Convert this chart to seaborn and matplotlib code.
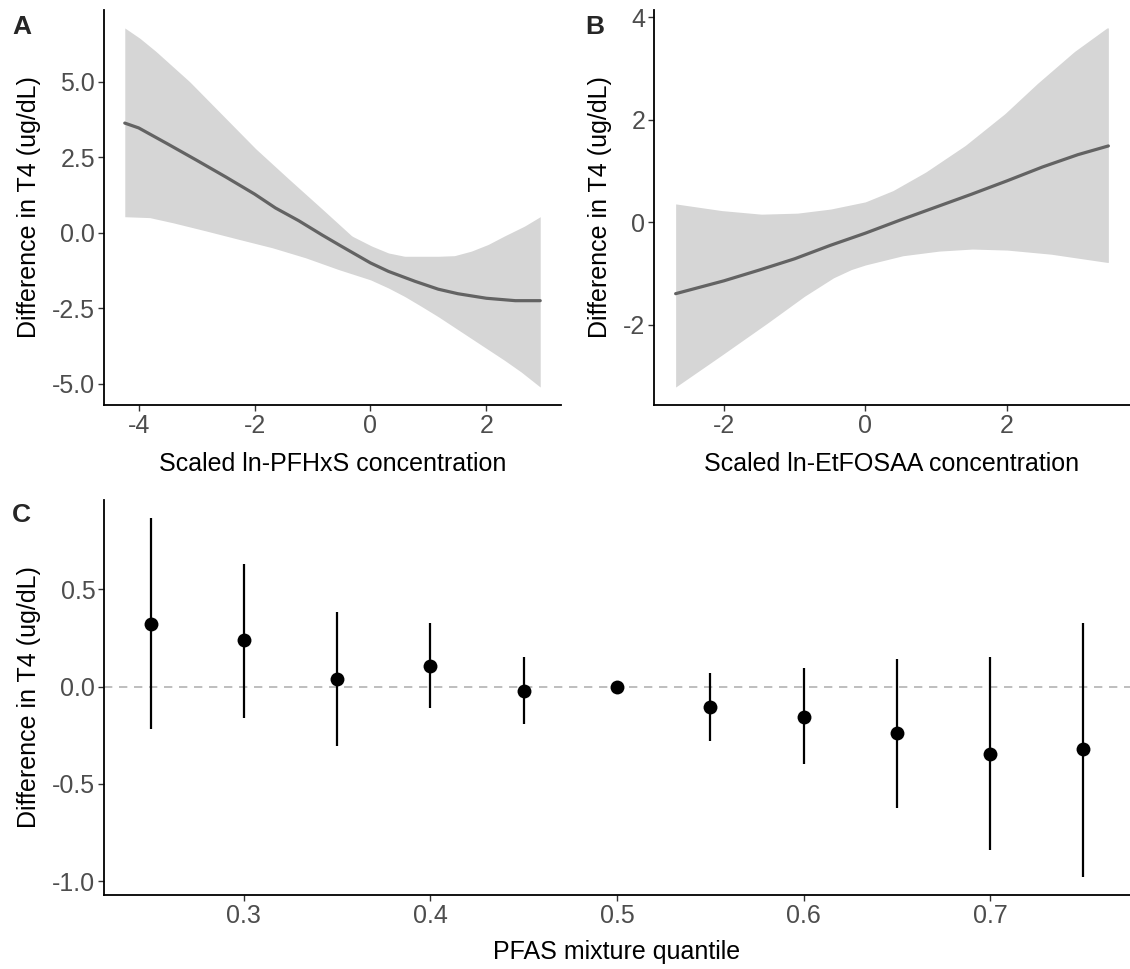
import numpy as np
import pandas as pd
import matplotlib
matplotlib.use("Agg")
import matplotlib.pyplot as plt
import seaborn as sns

# ---- Panel A data (PFHxS) ----
a_x = [-4.24, -4.0, -3.5, -3.0, -2.5, -2.0, -1.64, -1.24, -0.83, -0.5, -0.2, 0.0,
       0.31, 0.77, 1.17, 1.51, 2.0, 2.5, 2.93]
a_fit = [3.63, 3.47, 2.94, 2.40, 1.85, 1.28, 0.82, 0.40, -0.08, -0.45, -0.78, -1.0,
         -1.28, -1.61, -1.87, -2.02, -2.17, -2.25, -2.25]
a_up_x = [-4.24, -3.98, -3.70, -3.12, -2.55, -1.98, -1.41, -0.83, -0.32, 0.02, 0.31, 0.59,
          1.17, 1.45, 1.74, 2.03, 2.31, 2.66, 2.93]
a_up = [6.78, 6.44, 6.0, 5.0, 3.89, 2.78, 1.78, 0.78, -0.11, -0.44, -0.67, -0.78,
        -0.78, -0.76, -0.61, -0.39, -0.11, 0.22, 0.53]
a_lo_x = [-4.24, -3.81, -3.41, -2.84, -2.27, -1.69, -1.12, -0.55, 0.0, 0.31, 0.59, 0.88,
          1.17, 1.74, 2.31, 2.60, 2.93]
a_lo = [0.53, 0.50, 0.33, 0.06, -0.22, -0.50, -0.83, -1.22, -1.56, -1.83, -2.11, -2.44,
        -2.78, -3.50, -4.22, -4.61, -5.11]

# ---- Panel B data (EtFOSAA) ----
b_x = [-2.68, -2.0, -1.5, -1.0, -0.5, 0.0, 0.5, 1.0, 1.5, 2.0, 2.5, 3.0, 3.43]
b_fit = [-1.39, -1.14, -0.93, -0.71, -0.45, -0.21, 0.05, 0.30, 0.55, 0.81, 1.08, 1.32, 1.49]
b_up_x = [-2.68, -2.03, -1.47, -0.96, -0.49, 0.0, 0.39, 0.85, 1.41, 1.97, 2.43, 2.95, 3.41]
b_up = [0.36, 0.23, 0.16, 0.18, 0.26, 0.40, 0.62, 0.98, 1.50, 2.12, 2.71, 3.33, 3.79]
b_lo_x = [-2.68, -2.03, -1.38, -0.86, -0.45, -0.2, 0.0, 0.53, 1.04, 1.51, 2.0, 2.62, 3.41]
b_lo = [-3.21, -2.59, -1.96, -1.44, -1.08, -0.92, -0.83, -0.65, -0.56, -0.52, -0.54, -0.62, -0.78]

# ---- Panel C data (mixture quantiles) ----
quantile = [0.25, 0.30, 0.35, 0.40, 0.45, 0.50, 0.55, 0.60, 0.65, 0.70, 0.75]
estimate = [0.322, 0.240, 0.038, 0.106, -0.021, 0.0, -0.106, -0.158, -0.240, -0.348, -0.322]
ci_low = [-0.220, -0.163, -0.305, -0.111, -0.194, 0.0, -0.280, -0.398, -0.626, -0.840, -0.978]
ci_high = [0.866, 0.631, 0.381, 0.329, 0.154, 0.0, 0.069, 0.094, 0.144, 0.154, 0.329]

a_ticks = [-4, -2, 0, 2]
a_yticks = [-5.0, -2.5, 0.0, 2.5, 5.0]
b_ticks = [-2, 0, 2]
b_yticks = [-2, 0, 2, 4]
c_ticks = [0.3, 0.4, 0.5, 0.6, 0.7]
c_yticks = [-1.0, -0.5, 0.0, 0.5]

ylab = "Difference in T4 (ug/dL)"

sns.set_theme(style="ticks")
plt.rcParams['font.family'] = ['Liberation Sans', 'DejaVu Sans']

W, H = 1130, 969
fig = plt.figure(figsize=(W / 100, H / 100), dpi=100)

def px_axes(l, r, t, b):
    return fig.add_axes([l / W, 1 - b / H, (r - l) / W, (b - t) / H])

TICK_COL = "#4D4D4D"
FS_TICK = 18
FS_LAB = 18

def style(ax):
    for s in ["top", "right"]:
        ax.spines[s].set_visible(False)
    for s in ["left", "bottom"]:
        ax.spines[s].set_linewidth(1.3)
        ax.spines[s].set_color("black")
    ax.tick_params(axis="both", colors="#333333", labelcolor=TICK_COL,
                   labelsize=FS_TICK, length=4.3, width=1.0, pad=2)
    ax.set_facecolor("white")

def smooth_panel(ax, x, fit, ux, up, lx, lo, xlabel, xt, yt, fmt):
    grid = np.linspace(min(x), max(x), 300)
    upg = np.interp(grid, ux, up)
    log = np.interp(grid, lx, lo)
    ax.fill_between(grid, log, upg, color="#D6D6D6", lw=0, zorder=1)
    df = pd.DataFrame({"x": x, "y": fit})
    sns.lineplot(data=df, x="x", y="y", ax=ax, color="#636363", lw=2.3, zorder=3)
    allv = list(up) + list(lo)
    ymin, ymax = min(allv), max(allv)
    yr = ymax - ymin
    xr = max(x) - min(x)
    ax.set_xlim(min(x) - 0.05 * xr, max(x) + 0.05 * xr)
    ax.set_ylim(ymin - 0.05 * yr, ymax + 0.05 * yr)
    ax.set_xticks(xt)
    ax.set_yticks(yt)
    ax.set_yticklabels([fmt.format(v) for v in yt])
    ax.set_xticklabels([str(v) for v in xt])
    ax.set_xlabel(xlabel, fontsize=FS_LAB, color="black", labelpad=10)
    ax.set_ylabel(ylab, fontsize=FS_LAB, color="black", labelpad=8)
    style(ax)

axA = px_axes(104, 561, 10, 405)
smooth_panel(axA, a_x, a_fit, a_up_x, a_up, a_lo_x, a_lo,
             "Scaled ln-PFHxS concentration", a_ticks, a_yticks, "{:.1f}")

axB = px_axes(654, 1130, 10, 405)
smooth_panel(axB, b_x, b_fit, b_up_x, b_up, b_lo_x, b_lo,
             "Scaled ln-EtFOSAA concentration", b_ticks, b_yticks, "{:d}")

axC = px_axes(104, 1130, 500, 895)
dfc = pd.DataFrame({"q": quantile, "est": estimate, "lo": ci_low, "hi": ci_high})
axC.axhline(0, color="#B3B3B3", lw=1.2, ls=(0, (5, 4)), zorder=1)
axC.vlines(dfc["q"], dfc["lo"], dfc["hi"], color="black", lw=1.6, zorder=2)
sns.scatterplot(data=dfc, x="q", y="est", ax=axC, color="black", s=100,
                edgecolor="black", linewidth=0, zorder=3)
xr = max(quantile) - min(quantile)
axC.set_xlim(min(quantile) - 0.05 * xr, max(quantile) + 0.05 * xr)
yr = max(ci_high) - min(ci_low)
axC.set_ylim(min(ci_low) - 0.05 * yr, max(ci_high) + 0.05 * yr)
axC.set_xticks(c_ticks)
axC.set_xticklabels([f"{v:.1f}" for v in c_ticks])
axC.set_yticks(c_yticks)
axC.set_yticklabels([f"{v:.1f}" for v in c_yticks])
axC.set_xlabel("PFAS mixture quantile", fontsize=FS_LAB, color="black", labelpad=9)
axC.set_ylabel(ylab, fontsize=FS_LAB, color="black", labelpad=8)
style(axC)

fig.text(12 / W, 1 - 27 / H, "A", fontsize=19, fontweight="bold", va="center", ha="left")
fig.text(585 / W, 1 - 27 / H, "B", fontsize=19, fontweight="bold", va="center", ha="left")
fig.text(12 / W, 1 - 515 / H, "C", fontsize=19, fontweight="bold", va="center", ha="left")

fig.savefig("out.png", dpi=100, facecolor="white")
